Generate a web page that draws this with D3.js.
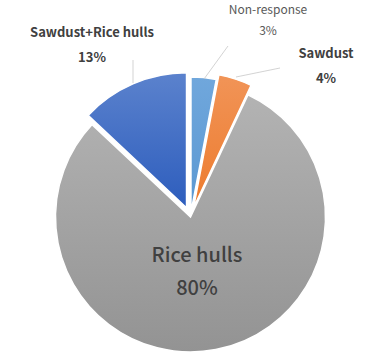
<!DOCTYPE html>
<html>
<head>
<meta charset="utf-8">
<script src="https://cdn.jsdelivr.net/npm/d3@7"></script>
<style>
  body { margin: 0; background: #fff; }
  svg { display: block; font-family: "Noto Sans CJK KR", "Noto Sans", sans-serif; }
</style>
</head>
<body>
<div id="app"></div>
<script>
const categories = ['Non-response', 'Sawdust', 'Rice hulls', 'Sawdust+Rice hulls'];
const values = [3, 4, 80, 13];

const width = 387;
const height = 361;
const cx = 190.5;
const cy = 217;
const radius = 135;

// per-slice look: explode distance, gradient stops, label placement
const looks = {
  'Non-response':       { explode: 5,  top: '#70a7dc', bottom: '#5a98d2', lx: 268, ly: 14, bold: false, size: 12, color: '#595959', line: [[228, 46], [204, 79]] },
  'Sawdust':            { explode: 10, top: '#f19457', bottom: '#ed7b2e', lx: 326, ly: 58, bold: true,  size: 13, color: '#404040', line: [[280, 68], [236, 77]] },
  'Rice hulls':         { explode: 0,  top: '#b3b3b3', bottom: '#939393', lx: 197, ly: 262, bold: false, size: 20, color: '#404040', line: null },
  'Sawdust+Rice hulls': { explode: 10, top: '#5b82cd', bottom: '#2d5dbd', lx: 92,  ly: 37, bold: true,  size: 13, color: '#404040', line: [[133, 60], [133, 83]] }
};

const data = categories.map((c, i) => ({ name: c, value: values[i] }));
const pie = d3.pie().sort(null).value(d => d.value);
const arcs = pie(data);
const arc = d3.arc().innerRadius(0).outerRadius(radius);

const svg = d3.select('#app').append('svg')
  .attr('width', width)
  .attr('height', height);

const defs = svg.append('defs');
arcs.forEach((d, i) => {
  const lk = looks[d.data.name];
  const g = defs.append('linearGradient')
    .attr('id', 'grad' + i)
    .attr('x1', 0).attr('y1', 0).attr('x2', 0).attr('y2', 1);
  g.append('stop').attr('offset', '0%').attr('stop-color', lk.top);
  g.append('stop').attr('offset', '100%').attr('stop-color', lk.bottom);
});

const slices = svg.append('g')
  .attr('transform', `translate(${cx},${cy})`);

slices.selectAll('path')
  .data(arcs)
  .enter().append('path')
    .attr('transform', d => {
      const a = (d.startAngle + d.endAngle) / 2;
      const e = looks[d.data.name].explode;
      return `translate(${Math.sin(a) * e},${-Math.cos(a) * e})`;
    })
    .attr('d', arc)
    .attr('fill', (d, i) => `url(#grad${i})`)
    .attr('stroke', '#fff')
    .attr('stroke-width', 1.5)
    .attr('stroke-linejoin', 'miter');

// leader lines
svg.append('g').selectAll('polyline')
  .data(arcs.filter(d => looks[d.data.name].line))
  .enter().append('polyline')
    .attr('points', d => looks[d.data.name].line.map(p => p.join(',')).join(' '))
    .attr('fill', 'none')
    .attr('stroke', '#c8c8c8')
    .attr('stroke-width', 0.8);

// labels: name and percent
const total = d3.sum(values);
const labels = svg.append('g').attr('text-anchor', 'middle');
arcs.forEach(d => {
  const lk = looks[d.data.name];
  const gap = lk.size >= 20 ? 33 : (lk.bold ? 25 : 21);
  labels.append('text')
    .attr('x', lk.lx).attr('y', lk.ly)
    .attr('font-size', lk.size)
    .attr('font-weight', lk.bold ? 'bold' : (lk.size >= 20 ? 500 : 'normal'))
    .attr('fill', lk.color)
    .text(d.data.name);
  labels.append('text')
    .attr('x', lk.lx).attr('y', lk.ly + gap)
    .attr('font-size', lk.size)
    .attr('font-weight', lk.bold ? 'bold' : (lk.size >= 20 ? 500 : 'normal'))
    .attr('fill', lk.color)
    .text(Math.round(d.data.value / total * 100) + '%');
});
</script>
</body>
</html>
